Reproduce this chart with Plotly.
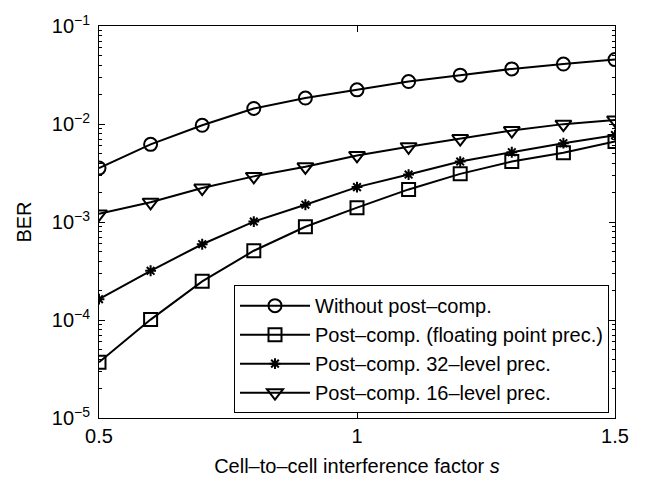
import plotly.graph_objects as go

s_vals = [0.5, 0.6, 0.7, 0.8, 0.9, 1.0, 1.1, 1.2, 1.3, 1.4, 1.5]
ber_without = [3.55e-3, 6.2e-3, 9.7e-3, 1.44e-2, 1.84e-2, 2.23e-2, 2.71e-2, 3.15e-2, 3.65e-2, 4.09e-2, 4.54e-2]
ber_float = [3.70e-5, 1.01e-4, 2.48e-4, 5.09e-4, 8.94e-4, 1.40e-3, 2.15e-3, 3.10e-3, 4.14e-3, 5.10e-3, 6.62e-3]
ber_32 = [1.63e-4, 3.18e-4, 5.93e-4, 1.01e-3, 1.50e-3, 2.27e-3, 3.05e-3, 4.14e-3, 5.15e-3, 6.37e-3, 7.70e-3]
ber_16 = [1.21e-3, 1.59e-3, 2.22e-3, 2.92e-3, 3.66e-3, 4.78e-3, 5.86e-3, 7.10e-3, 8.57e-3, 9.97e-3, 1.10e-2]

names = ["Without post–comp.", "Post–comp. (floating point prec.)",
         "Post–comp. 32–level prec.", "Post–comp. 16–level prec."]

x_ticks = [0.5, 1, 1.5]
x_ticktext = ["0.5", "1", "1.5"]
y_ticks = [1e-5, 1e-4, 1e-3, 1e-2, 1e-1]
y_ticktext = ["10<sup>−5</sup>", "10<sup>−4</sup>", "10<sup>−3</sup>", "10<sup>−2</sup>", "10<sup>−1</sup>"]
y_minor = [m * 10.0 ** e for e in range(-5, -1) for m in range(2, 10)]

FONT = "Liberation Sans, Arial, Helvetica, sans-serif"
FS = 20

fig = go.Figure()
series = [
    (ber_without, "circle-open", 13),
    (ber_float, "square-open", 13),
    (ber_32, "asterisk-open", 9),
    (ber_16, "triangle-down-open", 14),
]
for (vals, sym, size), name in zip(series, names):
    fig.add_trace(go.Scatter(
        x=s_vals, y=vals, name=name, mode="lines+markers",
        line=dict(color="black", width=2),
        marker=dict(symbol=sym, size=size, color="black",
                    line=dict(color="black", width=2)),
    ))

fig.update_layout(
    width=653, height=485,
    margin=dict(l=99, r=38, t=18, b=62),
    paper_bgcolor="white", plot_bgcolor="white",
    font=dict(family=FONT, size=FS, color="black"),
    showlegend=True,
    legend=dict(
        x=(609 - 99) / (615 - 99), y=(423 - 418) / (423 - 18),
        xanchor="right", yanchor="bottom",
        bgcolor="white", bordercolor="black", borderwidth=1,
        font=dict(family=FONT, size=FS, color="black"),
        itemwidth=70,
        tracegroupgap=0,
    ),
)
fig.update_xaxes(
    range=[0.5, 1.5], tickvals=x_ticks, ticktext=x_ticktext,
    ticks="inside", ticklen=6, tickcolor="black", tickwidth=1,
    showline=True, linecolor="black", linewidth=1, mirror="ticks",
    showgrid=False, zeroline=False,
    title=dict(text="Cell–to–cell interference factor <i>s</i>", standoff=12,
               font=dict(family=FONT, size=FS)),
    tickfont=dict(family=FONT, size=FS),
)
fig.update_yaxes(
    type="log", range=[-5, -1], tickvals=y_ticks, ticktext=y_ticktext,
    ticks="inside", ticklen=6, tickcolor="black", tickwidth=1,
    showline=True, linecolor="black", linewidth=1, mirror="ticks",
    showgrid=False, zeroline=False,
    ticklabelstandoff=4,
    minor=dict(tickvals=y_minor, ticks="inside", ticklen=3, tickcolor="black", showgrid=False),
    title=dict(text="BER", standoff=14, font=dict(family=FONT, size=FS)),
    tickfont=dict(family=FONT, size=FS),
)

fig.write_html("out.html")
